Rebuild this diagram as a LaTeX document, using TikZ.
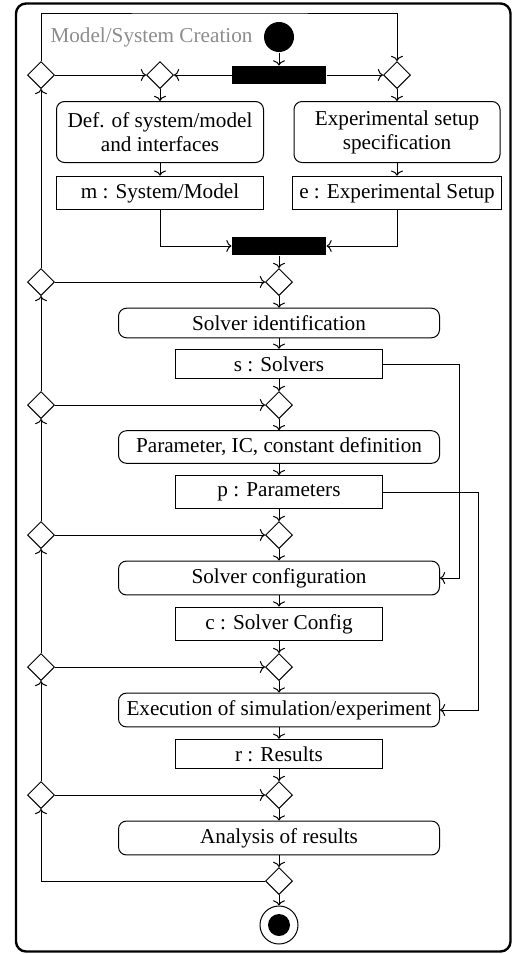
\documentclass[tikz,border=0pt]{standalone}
\usepackage{fontspec}
\setmainfont{Liberation Serif}
\usetikzlibrary{shapes.geometric,arrows.meta}

\colorlet{frame edge}{black}
\colorlet{title text}{black!45}
\tikzset{
  >={To[length=2.6pt,width=6pt]},
  connect/.style={draw, ->}
  }
\tikzstyle{action} = [draw, rounded corners=4pt, inner xsep=2pt, inner ysep=3.6pt, minimum width=160.5pt, align=center]
\tikzstyle{object} = [draw, rectangle, inner ysep=3.6pt, minimum width=103.5pt]
\tikzstyle{decision} = [draw, diamond, aspect=1, inner sep=0pt, minimum size=13.5pt, fill=white]
\tikzstyle{bar} = [fill=black, rectangle, inner sep=0pt, minimum width=47pt, minimum height=9pt]
\tikzstyle{startDot} = [circle, fill=black, inner sep=0pt, minimum size=15pt]
\tikzstyle{stopRing} = [circle, draw, inner sep=0pt, minimum size=19pt]
\tikzstyle{stopDot} = [circle, fill=black, inner sep=0pt, minimum size=11pt]
\def\decisions{{(41,75)/back0}, {(160,75)/dA}, {(397,75)/dB}, {(279,282)/dS}, {(41,282)/backS}, {(279,405)/dP}, {(41,405)/backP}, {(279,535)/dC}, {(41,535)/backC}, {(279,667)/dE}, {(41,667)/backE}, {(279,795)/dR}, {(41,795)/backR}, {(279,881)/dEnd}}
\def\flow{start/fork, fork/dA, fork/dB, back0/dA, dA/defModel, defModel/objModel, dB/expSpec, expSpec/objSetup, join/dS, dS/solverId, solverId/objSolvers, objSolvers/dP, dP/paramDef, paramDef/objParams, objParams/dC, dC/solverConf, solverConf/objConfig, objConfig/dE, dE/execSim, execSim/objResults, objResults/dR, dR/analysis, analysis/dEnd, dEnd/stop}

\begin{document}
\begin{tikzpicture}[x=0.5pt, y=-0.5pt, line width=0.5pt, font=\fontsize{10.6pt}{12pt}\selectfont]
    \useasboundingbox (0,0) rectangle (512,954);

    % Frame of the whole activity
    \draw[draw=frame edge, line width=1.2pt, rounded corners=5pt] (16,3.5) rectangle (510.5,951.5);
    \node[text=title text, anchor=west, inner sep=0pt] (title) at (50,37) {Model/System Creation};

    % Start, fork and join
    \node[startDot] (start) at (279,37) {};
    \foreach \pos/\name in {{(279,75)/fork}, {(279,246)/join}}
      \node[bar] (\name) at \pos {};

    % The decision points
    \foreach \pos/\name in \decisions
      \node[decision] (\name) at \pos {};

    % Actions
    \node[action, minimum width=103.5pt, minimum height=30.5pt] (defModel) at (160,132) {Def. of system/model\\and interfaces};
    \node[action, minimum width=103pt, minimum height=30.5pt] (expSpec) at (397,132) {Experimental setup\\specification};
    \foreach \pos/\name/\lbl in {{(279,323)/solverId/{Solver identification}}, {(279,447)/paramDef/{Parameter, IC, constant definition}}, {(279,578)/solverConf/{Solver configuration}}, {(279,710)/execSim/{Execution of simulation/experiment}}, {(279,838)/analysis/{Analysis of results}}}
      \node[action] (\name) at \pos {\lbl};

    % Objects
    \foreach \pos/\name/\lbl in {{(160,193)/objModel/{m : System/Model}}, {(397,193)/objSetup/{e : Experimental Setup}}, {(279,364)/objSolvers/{s : Solvers}}, {(279,492)/objParams/{p : Parameters}}, {(279,624)/objConfig/{c : Solver Config}}, {(279,754)/objResults/{r : Results}}}
      \node[object] (\name) at \pos {\lbl};

    % End
    \node[stopRing] (stop) at (279,925) {};
    \node[stopDot] (stopCore) at (stop) {};

    % Main flow
    \foreach \source/\sink in \flow
      \path[connect] (\source) -- (\sink);

    \path[connect] (objModel) |- (join);
    \path[connect] (objSetup) |- (join);

    % Going back
    \foreach \source/\sink in {backS/dS, backP/dP, backC/dC, backE/dE, backR/dR, backR/backE, backE/backC, backC/backP, backP/backS, backS/back0}
      \path[connect] (\source) -- (\sink);
    \path[connect] (dEnd) -| (backR);
    \coordinate (loopTop) at (220,13);
    \path[connect] (back0) |- (loopTop) -| (dB);

    % Objects used later on
    \coordinate (solverRoute) at (459,578);
    \coordinate (paramRoute) at (478,710);
    \path[connect] (objSolvers) -| (solverRoute) -- (solverConf);
    \path[connect] (objParams) -| (paramRoute) -- (execSim);

\end{tikzpicture}
\end{document}
